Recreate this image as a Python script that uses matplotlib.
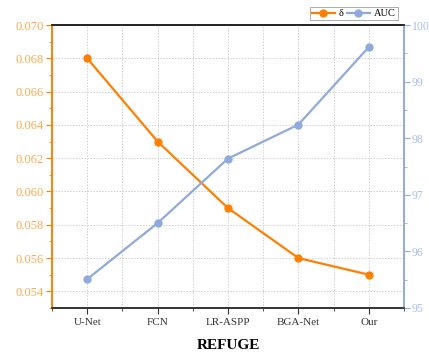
import matplotlib
matplotlib.use("Agg")
import matplotlib.pyplot as plt
from matplotlib.ticker import MultipleLocator, FixedLocator

categories = ["U-Net", "FCN", "LR-ASPP", "BGA-Net", "Our"]
delta = [0.068, 0.063, 0.059, 0.056, 0.055]
auc = [95.51, 96.50, 97.64, 98.24, 99.61]
left_ticks = [0.054, 0.056, 0.058, 0.060, 0.062, 0.064, 0.066, 0.068, 0.070]
right_ticks = [95, 96, 97, 98, 99, 100]

orange = "#FF8000"
orange_lbl = "#FFA94D"
blue = "#8FAADC"
blue_lbl = "#A9BFE6"

plt.rcParams['font.family'] = ['Liberation Serif', 'DejaVu Serif']

fig = plt.figure(figsize=(4.29, 3.54), dpi=100)
ax = fig.add_axes([52/429, 46/354, 352/429, 283/354])
ax2 = ax.twinx()

x = list(range(len(categories)))
l1, = ax.plot(x, delta, color=orange, lw=1.6, marker='o', ms=5, label='δ', zorder=3)
l2, = ax2.plot(x, auc, color=blue, lw=1.6, marker='o', ms=5, label='AUC', zorder=3)

ax.set_xlim(-0.5, 4.5)
ax.set_ylim(0.053, 0.070)
ax2.set_ylim(95, 100)

ax.set_xticks(x)
ax.set_xticklabels(categories, fontsize=8, color='#333333')
ax.xaxis.set_minor_locator(FixedLocator([-0.5, 0.5, 1.5, 2.5, 3.5, 4.5]))
ax.set_yticks(left_ticks)
ax.set_yticklabels([f"{v:.3f}" for v in left_ticks], fontsize=9, color=orange_lbl)
ax.yaxis.set_minor_locator(MultipleLocator(0.001))
ax2.set_yticks(right_ticks)
ax2.set_yticklabels([str(v) for v in right_ticks], fontsize=8.5, color=blue_lbl)
ax2.yaxis.set_minor_locator(MultipleLocator(0.5))

ax.grid(True, which='major', axis='y', color='#D0D0D0', ls=(0, (1.5, 1.5)), lw=0.7)
ax.grid(True, which='both', axis='x', color='#D0D0D0', ls=(0, (1.5, 1.5)), lw=0.7)

ax.tick_params(axis='x', which='major', direction='out', length=4, color='#333333', top=False)
ax.tick_params(axis='x', which='minor', direction='out', length=2, color='#333333', top=False)
ax2.tick_params(axis='x', which='major', direction='in', length=4, color='#222222',
                top=True, bottom=False, labeltop=False, labelbottom=False)
ax2.tick_params(axis='x', which='minor', direction='in', length=2, color='#222222',
                top=True, bottom=False, labeltop=False, labelbottom=False)
ax.tick_params(axis='y', which='major', direction='out', length=4, color=orange, pad=2)
ax.tick_params(axis='y', which='minor', direction='out', length=2, color=orange)
ax2.tick_params(axis='y', which='major', direction='out', length=4, color=blue, pad=1.5)
ax2.tick_params(axis='y', which='minor', direction='out', length=2, color=blue)

for a in (ax, ax2):
    a.spines['left'].set_color(orange)
    a.spines['right'].set_color(blue)
    a.spines['top'].set_color('#222222')
    a.spines['bottom'].set_color('#333333')
    for s in a.spines.values():
        s.set_linewidth(1.2)

ax.set_xlabel("REFUGE", fontsize=11, fontweight='bold', labelpad=8)

leg = fig.legend(handles=[l1, l2], loc='upper right', bbox_to_anchor=(398/429, 1 - 7/354),
                 ncol=2, fontsize=7.5, frameon=True, fancybox=False, edgecolor='#888888',
                 handlelength=2.2, columnspacing=0.3, handletextpad=0.4, borderpad=0.2,
                 borderaxespad=0)
leg.get_frame().set_linewidth(0.6)

fig.savefig("out.png", dpi=100)
